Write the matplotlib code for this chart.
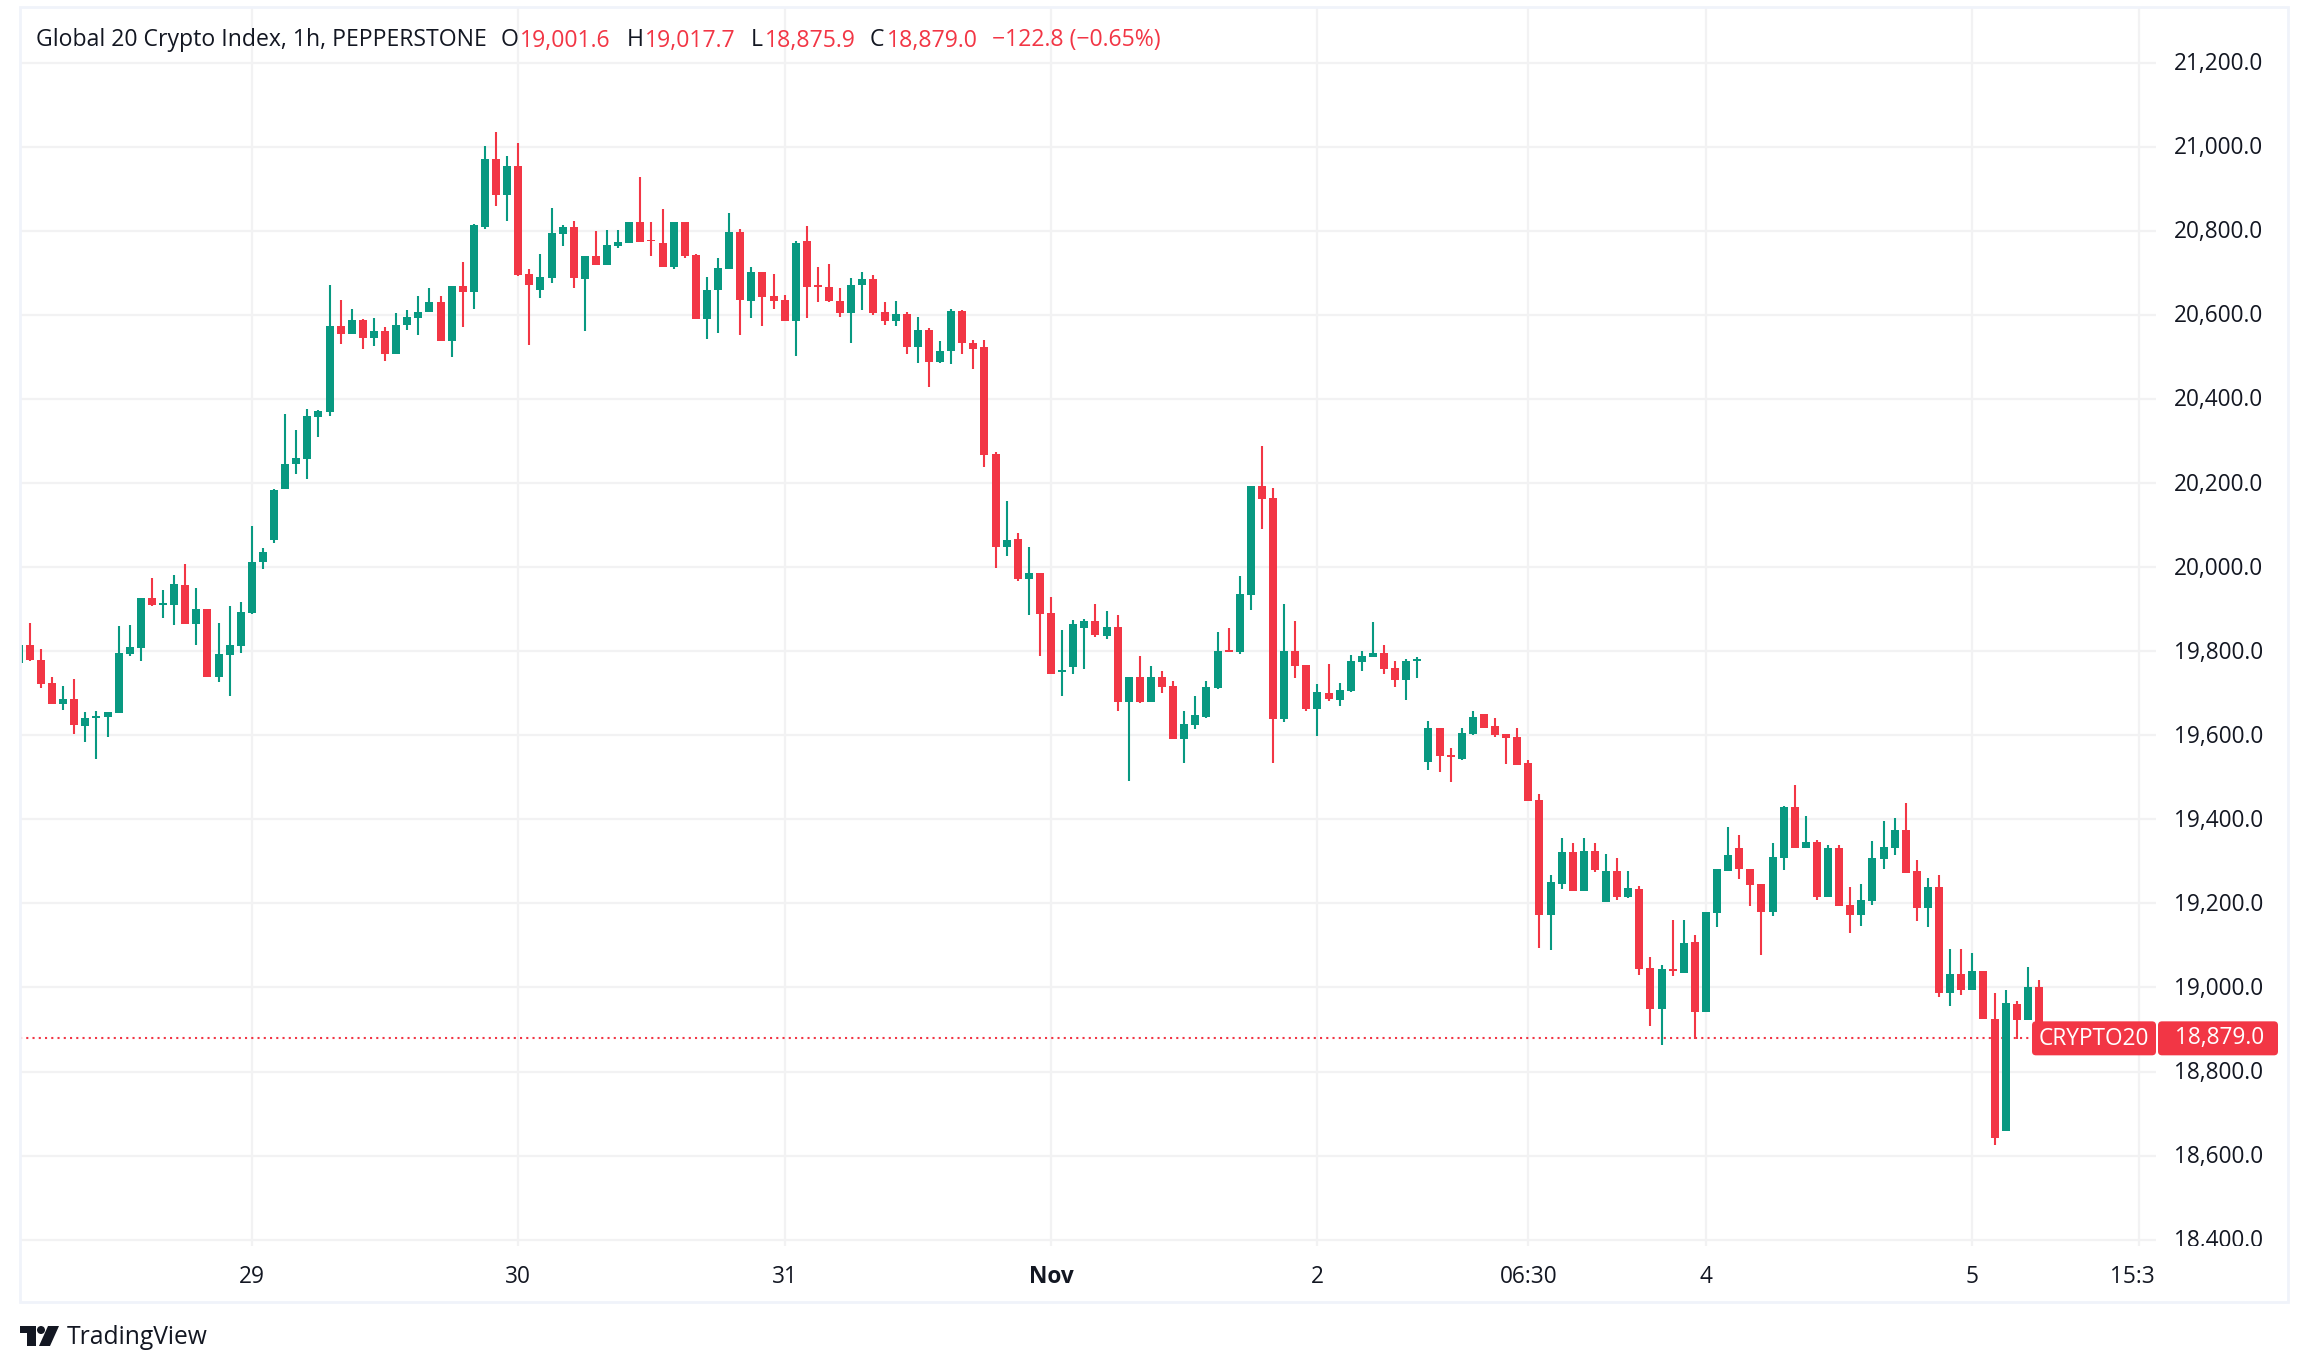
import matplotlib
matplotlib.use('Agg')
import matplotlib.pyplot as plt
from matplotlib.patches import Rectangle, FancyBboxPatch, Polygon, Circle
from matplotlib.transforms import Bbox, ScaledTranslation
import numpy as np

W, H = 2308, 1372
UP = '#089981'
DOWN = '#F23645'
INK = '#131722'
GRID = '#F2F2F3'
FRAME = '#F0F3FA'

plt.rcParams['font.family'] = ['Open Sans', 'DejaVu Sans']

opens = [19772,19815,19779,19725,19674,19687,19623,19642,19643,19653,
         19794,19807,19927,19910,19910,19958,19865,19900,19739,19791,
         19812,19891,20012,20064,20186,20245,20257,20357,20369,20573,
         20554,20588,20544,20561,20506,20575,20592,20606,20630,20537,
         20668,20654,20810,20970,20885,20954,20697,20659,20688,20792,
         20808,20685,20739,20718,20763,20772,20820,20779,20772,20715,
         20820,20743,20589,20658,20710,20798,20634,20701,20646,20636,
         20585,20776,20672,20667,20634,20605,20670,20685,20608,20585,
         20603,20523,20565,20489,20513,20610,20534,20523,20270,20047,
         20066,19971,19986,19890,19751,19762,19855,19871,19835,19857,
         19678,19738,19680,19738,19717,19591,19625,19643,19712,19803,
         19798,19933,20193,20164,19639,19800,19767,19663,19700,19684,
         19705,19774,19787,19796,19760,19731,19777,19536,19617,19554,
         19543,19602,19650,19622,19603,19596,19534,19446,19173,19246,
         19323,19230,19325,19204,19277,19215,19235,19046,18949,19044,
         19035,19108,18942,19176,19278,19331,19282,19247,19180,19308,
         19430,19332,19346,19216,19332,19197,19173,19206,19306,19332,
         19375,19276,19190,19238,18988,19031,18993,19040,18926,18658,
         18960,18922,19001.6]
highs = [19815,19867,19805,19739,19718,19734,19656,19658,19656,19860,
         19862,19927,19974,19945,19981,20007,19951,19900,19867,19907,
         19917,20098,20045,20186,20364,20326,20375,20373,20670,20635,
         20613,20590,20592,20571,20604,20611,20644,20663,20646,20668,
         20725,20815,21001,21034,20977,21010,20708,20744,20854,20813,
         20823,20739,20799,20803,20803,20820,20927,20820,20851,20820,
         20822,20745,20689,20736,20843,20805,20715,20701,20698,20648,
         20776,20812,20715,20722,20665,20687,20703,20696,20630,20632,
         20608,20596,20568,20539,20615,20612,20541,20541,20273,20157,
         20082,20047,19986,19928,19850,19873,19876,19913,19895,19886,
         19738,19788,19764,19753,19729,19658,19694,19729,19845,19855,
         19978,20193,20288,20188,19912,19872,19767,19722,19769,19725,
         19791,19800,19869,19814,19776,19781,19787,19634,19617,19570,
         19617,19658,19650,19641,19603,19617,19541,19461,19268,19356,
         19344,19356,19344,19318,19308,19277,19241,19073,19053,19161,
         19161,19125,19180,19282,19382,19363,19282,19247,19344,19432,
         19482,19408,19351,19340,19340,19238,19247,19349,19396,19404,
         19439,19304,19261,19268,19092,19092,19083,19040,18986,18993,
         18969,19048,19017.7]
lows = [19772,19776,19712,19674,19660,19603,19585,19543,19596,19653,
        19789,19776,19907,19879,19862,19865,19815,19739,19727,19694,
        19796,19889,19996,20057,20186,20222,20209,20309,20359,20530,
        20554,20519,20526,20490,20506,20564,20552,20606,20537,20499,
        20571,20613,20804,20859,20823,20692,20528,20639,20677,20763,
        20663,20561,20719,20718,20758,20772,20774,20739,20715,20708,
        20736,20589,20543,20558,20710,20551,20592,20574,20615,20585,
        20503,20592,20630,20630,20596,20532,20612,20599,20577,20574,
        20508,20485,20428,20485,20482,20508,20472,20239,19999,20026,
        19966,19886,19788,19745,19693,19745,19757,19833,19828,19657,
        19491,19676,19678,19700,19591,19534,19614,19641,19710,19798,
        19793,19898,20091,19534,19632,19736,19658,19598,19681,19670,
        19703,19753,19787,19745,19714,19684,19736,19517,19512,19489,
        19541,19601,19617,19596,19532,19529,19443,19094,19090,19235,
        19230,19230,19275,19204,19208,19213,19030,18909,18862,19028,
        19035,18878,18942,19143,19278,19259,19194,19077,19171,19280,
        19332,19332,19209,19216,19194,19130,19147,19197,19282,19314,
        19273,19159,19145,18978,18955,18981,18993,18924,18625,18658,
        18878,18922,18875.9]
closes = [19815,19779,19722,19674,19687,19625,19641,19646,19656,19796,
          19810,19927,19910,19914,19960,19865,19900,19739,19794,19815,
          19893,20012,20036,20184,20245,20259,20359,20371,20573,20554,
          20588,20544,20561,20506,20577,20595,20608,20630,20537,20668,
          20654,20813,20970,20885,20954,20694,20670,20690,20794,20810,
          20688,20739,20719,20767,20774,20820,20774,20775,20715,20820,
          20741,20589,20660,20712,20798,20636,20703,20643,20634,20585,
          20770,20667,20667,20632,20605,20672,20685,20605,20585,20603,
          20523,20565,20489,20515,20610,20532,20520,20266,20047,20064,
          19971,19986,19888,19745,19755,19864,19871,19838,19857,19678,
          19738,19680,19738,19714,19591,19627,19648,19714,19800,19798,
          19936,20193,20162,19639,19800,19765,19663,19703,19687,19707,
          19776,19789,19796,19758,19731,19776,19781,19617,19550,19548,
          19605,19643,19617,19601,19594,19529,19443,19173,19251,19323,
          19230,19325,19279,19277,19215,19237,19044,18949,19044,19040,
          19106,18942,19180,19282,19316,19281,19244,19180,19311,19430,
          19332,19346,19216,19332,19194,19173,19209,19308,19335,19375,
          19273,19190,19238,18988,19031,18993,19040,18924,18642,18962,
          18922,19000,18879]

price_ticks = [18400,18600,18800,19000,19200,19400,19600,19800,20000,20200,20400,20600,20800,21000,21200]
time_ticks = [21,45,69,93,117,136,152,176,191]
time_labels = ['29','30','31','Nov','2','06:30','4','5','15:30']

opens = np.array(opens)
highs = np.array(highs)
lows = np.array(lows)
closes = np.array(closes)
bars = np.arange(len(opens))
colors = np.where(closes >= opens, UP, DOWN)

fig = plt.figure(figsize=(W/100, H/100), dpi=100, facecolor='white')

# plot pane, 20..2156 across and 8..1246 down
left, right, top, bottom = 20, 2156, 8, 1246
ax = fig.add_axes([left/W, 1-bottom/H, (right-left)/W, (bottom-top)/H])
ax.set_xlim((left-18.75)/11.1, (right-18.75)/11.1)
ax.set_ylim(18385, 21330)
for s in ax.spines.values():
    s.set_visible(False)
ax.grid(True, color=GRID, linewidth=1.6)
ax.set_axisbelow(True)

ax.vlines(bars, lows, highs, colors=colors, linewidth=1.5, zorder=3)
ax.bar(bars, np.abs(closes-opens), bottom=np.minimum(opens, closes), width=0.72, color=colors, zorder=3)
ax.axhline(closes[-1], color=DOWN, linewidth=1.5, linestyle=(0, (1, 2)), zorder=2)

ax.yaxis.tick_right()
ax.set_yticks(price_ticks)
ax.set_yticklabels([f'{p:,.1f}' for p in price_ticks])
ax.set_xticks(time_ticks)
ax.set_xticklabels(time_labels)
ax.tick_params(axis='both', length=0, labelsize=16.3, labelcolor=INK)
ax.tick_params(axis='y', pad=13)
ax.tick_params(axis='x', pad=14)
ax.get_xticklabels()[3].set_fontweight('bold')

# labels are cut at the pane edges, as on the chart
fig.canvas.draw()
ybox = Bbox.from_extents(right, H-bottom, W, H-top)
for lbl in ax.get_yticklabels():
    lbl.set_transform(lbl.get_transform() + ScaledTranslation(0, 1.5/100, fig.dpi_scale_trans))
    lbl.set_clip_box(ybox)
    lbl.set_clip_on(True)
xbox = Bbox.from_extents(left, 0, right-2, H)
for lbl in ax.get_xticklabels():
    lbl.set_clip_box(xbox)
    lbl.set_clip_on(True)

# overlay in pixel coordinates for the frame, legend, tags and logo
ov = fig.add_axes([0, 0, 1, 1], zorder=5)
ov.set_xlim(0, W)
ov.set_ylim(H, 0)
ov.axis('off')
ov.patch.set_alpha(0)

ov.add_patch(Rectangle((20, 7), 2268, 1295, fill=False, edgecolor=FRAME, linewidth=2))

head_y = 40.5
head_size = 16.6
ov.text(36, head_y, 'Global 20 Crypto Index, 1h, PEPPERSTONE', color=INK, fontsize=head_size, va='center')
for x, s, c in [(501, 'O', INK), (520, '19,001.6', DOWN), (627, 'H', INK), (645, '19,017.7', DOWN),
                (751, 'L', INK), (765, '18,875.9', DOWN), (870, 'C', INK), (887, '18,879.0', DOWN),
                (992, '\u2212122.8 (\u22120.65%)', DOWN)]:
    ov.text(x, head_y, s, color=c, fontsize=head_size, va='center')

# last price tags follow the close on the price scale
tag_y = H - ax.transData.transform((0, closes[-1]))[1]
ov.add_patch(FancyBboxPatch((2032, tag_y-17), 124, 34, boxstyle='round,pad=0,rounding_size=4', facecolor=DOWN, edgecolor='none'))
ov.add_patch(FancyBboxPatch((2158, tag_y-17), 120, 34, boxstyle='round,pad=0,rounding_size=4', facecolor=DOWN, edgecolor='none'))
ov.text(2094, tag_y+1, 'CRYPTO20', color='white', fontsize=16.3, ha='center', va='center')
ov.text(2175, tag_y, f'{closes[-1]:,.1f}', color='white', fontsize=16.3, ha='left', va='center')

# logo
ov.add_patch(Polygon([(20, 1326), (36, 1326), (36, 1346), (27, 1346), (27, 1333), (20, 1333)], facecolor=INK, edgecolor='none'))
ov.add_patch(Circle((41, 1330), 4, facecolor=INK, edgecolor='none'))
ov.add_patch(Polygon([(48, 1326), (59, 1326), (50, 1346), (39, 1346)], facecolor=INK, edgecolor='none'))
ov.text(67, 1338, 'TradingView', color=INK, fontsize=17.7, va='center')

fig.savefig('out.png', dpi=100, facecolor='white')
